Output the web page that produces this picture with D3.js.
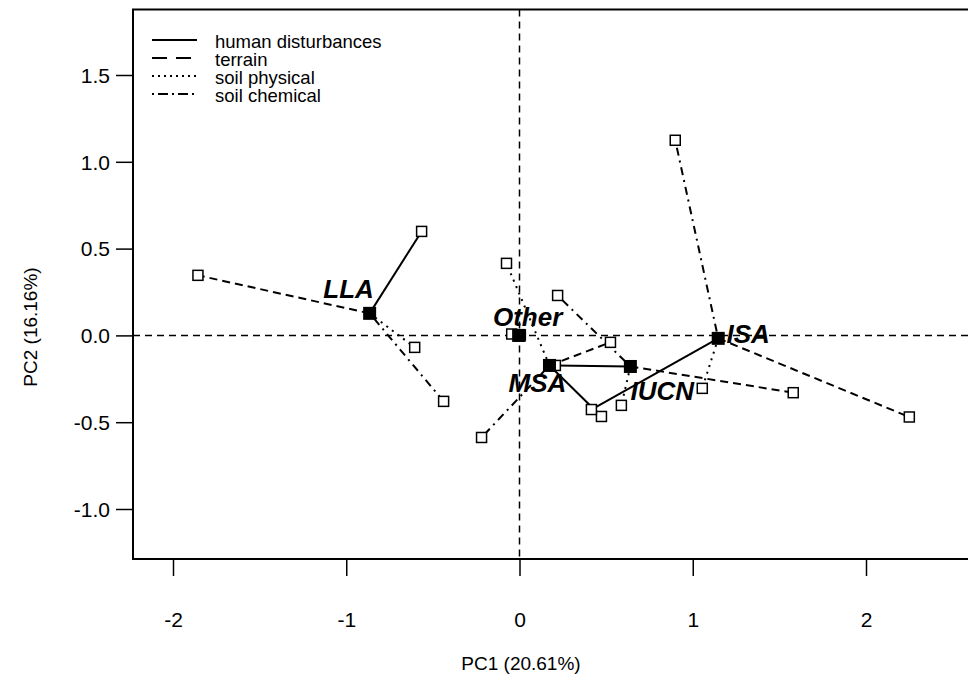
<!DOCTYPE html>
<html>
<head>
<meta charset="utf-8">
<script src="https://cdn.jsdelivr.net/npm/d3@7"></script>
<style>
  body { margin: 0; background: #fff; }
  svg { display: block; font-family: "Liberation Sans", Arial, sans-serif; }
</style>
</head>
<body>
<svg width="968" height="682"></svg>
<script>
// groups (centroids, filled squares)
let groups = ['LLA', 'Other', 'MSA', 'IUCN', 'ISA']
let centroidPC1 = [-0.865, -0.005, 0.173, 0.640, 1.147]
let centroidPC2 = [0.127, 0.000, -0.173, -0.179, -0.017]

// factor sets (open squares), one value per group
let factors = ['human disturbances', 'terrain', 'soil physical', 'soil chemical']
let humanPC1 = [-0.565, -0.045, 0.473, 0.207, 0.415]
let humanPC2 = [0.599, 0.008, -0.467, -0.173, -0.427]
let terrainPC1 = [-1.856, 0.005, 0.525, 1.580, 2.250]
let terrainPC2 = [0.346, 0.003, -0.040, -0.330, -0.470]
let physPC1 = [-0.605, 0.002, -0.075, 0.588, 1.055]
let physPC2 = [-0.069, -0.004, 0.415, -0.403, -0.305]
let chemPC1 = [-0.438, -0.003, -0.219, 0.220, 0.899]
let chemPC2 = [-0.380, 0.002, -0.588, 0.230, 1.124]

let xTicks = [-2, -1, 0, 1, 2]
let yTicks = [-1.0, -0.5, 0.0, 0.5, 1.0, 1.5]

let factorPC1 = [humanPC1, terrainPC1, physPC1, chemPC1]
let factorPC2 = [humanPC2, terrainPC2, physPC2, chemPC2]
let dashes = ['none', '8,5', '2,5', '2,5,8,5']
let legendDashes = ['none', '15,9', '2,4', '2,4,10,4']

// label offsets in px from centroid
let labelOffset = {LLA: [-21, -24], Other: [9, -18], MSA: [-12, 18], IUCN: [32, 25], ISA: [30, -4]}

let svg = d3.select('svg')

let x = d3.scaleLinear().domain([-2, 2]).range([173, 866])
let y = d3.scaleLinear().domain([-1, 1.5]).range([509, 75])

let plotLeft = 133, plotTop = 9.5, plotBottom = 559

// zero lines
svg.append('line')
    .attr('x1', plotLeft).attr('x2', 968)
    .attr('y1', y(0)).attr('y2', y(0))
    .attr('stroke', '#000').attr('stroke-width', 1.5).attr('stroke-dasharray', '7,5')
svg.append('line')
    .attr('x1', x(0)).attr('x2', x(0))
    .attr('y1', plotTop).attr('y2', plotBottom)
    .attr('stroke', '#000').attr('stroke-width', 1.5).attr('stroke-dasharray', '7,5')

// segments from centroid to factor points
factors.forEach((f, fi) => {
    svg.selectAll('.seg' + fi)
        .data(groups)
        .enter()
        .append('line')
        .attr('class', 'seg' + fi)
        .attr('x1', (g, i) => x(centroidPC1[i]))
        .attr('y1', (g, i) => y(centroidPC2[i]))
        .attr('x2', (g, i) => x(factorPC1[fi][i]))
        .attr('y2', (g, i) => y(factorPC2[fi][i]))
        .attr('stroke', '#000')
        .attr('stroke-width', 2)
        .attr('stroke-dasharray', dashes[fi])
})

// open squares
factors.forEach((f, fi) => {
    svg.selectAll('.pt' + fi)
        .data(groups)
        .enter()
        .append('rect')
        .attr('class', 'pt' + fi)
        .attr('x', (g, i) => x(factorPC1[fi][i]) - 5)
        .attr('y', (g, i) => y(factorPC2[fi][i]) - 5)
        .attr('width', 10).attr('height', 10)
        .attr('fill', '#fff')
        .attr('stroke', '#000')
        .attr('stroke-width', 1.5)
})

// centroids
svg.selectAll('.cent')
    .data(groups)
    .enter()
    .append('rect')
    .attr('class', 'cent')
    .attr('x', (g, i) => x(centroidPC1[i]) - 6.5)
    .attr('y', (g, i) => y(centroidPC2[i]) - 6.5)
    .attr('width', 13).attr('height', 13)
    .attr('fill', '#000')

svg.selectAll('.lab')
    .data(groups)
    .enter()
    .append('text')
    .attr('class', 'lab')
    .attr('x', (g, i) => x(centroidPC1[i]) + labelOffset[g][0])
    .attr('y', (g, i) => y(centroidPC2[i]) + labelOffset[g][1])
    .attr('text-anchor', 'middle')
    .attr('dominant-baseline', 'central')
    .attr('font-size', 26)
    .attr('font-weight', 'bold')
    .attr('font-style', 'italic')
    .text(g => g)

// frame
svg.append('rect')
    .attr('x', plotLeft).attr('y', plotTop)
    .attr('width', 900).attr('height', plotBottom - plotTop)
    .attr('fill', 'none').attr('stroke', '#000').attr('stroke-width', 2)

// axes
let xAxis = svg.append('g')
    .attr('transform', `translate(0,${plotBottom})`)
    .call(d3.axisBottom(x).tickValues(xTicks).tickSize(17).tickPadding(36)
        .tickFormat(d => String(d)))
let yAxis = svg.append('g')
    .attr('transform', `translate(${plotLeft},0)`)
    .call(d3.axisLeft(y).tickValues(yTicks).tickSize(17).tickPadding(6)
        .tickFormat(d => d.toFixed(1)))

;[xAxis, yAxis].forEach(a => {
    a.select('.domain').remove()
    a.selectAll('line').attr('stroke', '#000').attr('stroke-width', 1.5)
    a.selectAll('text').attr('font-size', 21).attr('fill', '#000')
        .attr('font-family', '"Liberation Sans", Arial, sans-serif')
})
yAxis.selectAll('text').attr('dy', '0.35em')

svg.append('text')
    .attr('x', 521).attr('y', 663)
    .attr('text-anchor', 'middle')
    .attr('dominant-baseline', 'central')
    .attr('font-size', 19)
    .text('PC1 (20.61%)')

svg.append('text')
    .attr('transform', 'translate(30,327) rotate(-90)')
    .attr('text-anchor', 'middle')
    .attr('dominant-baseline', 'central')
    .attr('font-size', 19)
    .text('PC2 (16.16%)')

// legend
let legend = svg.append('g')
factors.forEach((f, fi) => {
    let ly = 40 + fi * 18
    legend.append('line')
        .attr('x1', 152).attr('x2', 197)
        .attr('y1', ly).attr('y2', ly)
        .attr('stroke', '#000').attr('stroke-width', 2)
        .attr('stroke-dasharray', legendDashes[fi])
    legend.append('text')
        .attr('x', 215).attr('y', ly + 1)
        .attr('dominant-baseline', 'central')
        .attr('font-size', 18.5)
        .text(f)
})
</script>
</body>
</html>
